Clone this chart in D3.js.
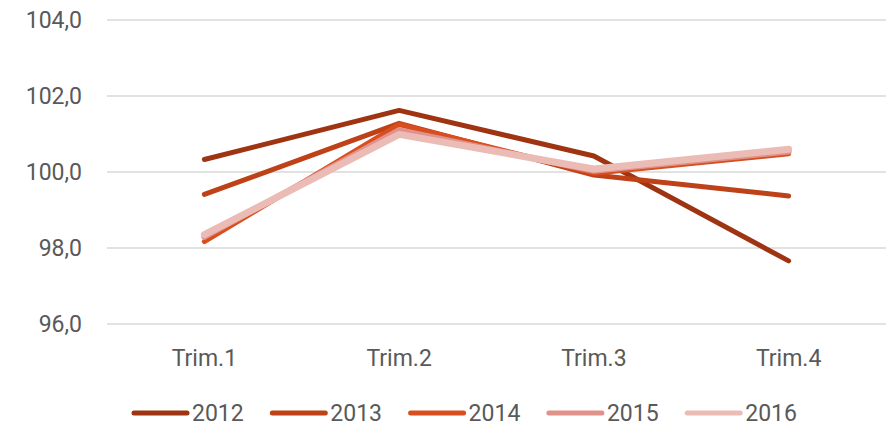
<!DOCTYPE html>
<html>
<head>
<meta charset="utf-8">
<script src="https://cdn.jsdelivr.net/npm/d3@7/dist/d3.min.js"></script>
<style>
  body { margin: 0; background: #fff; }
  svg { display: block; font-family: Roboto, sans-serif; }
</style>
</head>
<body>
<svg id="chart" width="892" height="426"></svg>
<script>
// Data
const quarters = ['Trim.1', 'Trim.2', 'Trim.3', 'Trim.4'];
const years = ['2012', '2013', '2014', '2015', '2016'];
const v2012 = [100.33, 101.62, 100.42, 97.66];
const v2013 = [99.41, 101.28, 99.92, 99.37];
const v2014 = [98.17, 101.25, 99.97, 100.48];
const v2015 = [98.29, 101.10, 100.03, 100.54];
const v2016 = [98.35, 100.99, 100.08, 100.60];
const yTicks = [96, 98, 100, 102, 104];

const seriesValues = [v2012, v2013, v2014, v2015, v2016];
const colors = ['#9E3411', '#BE4117', '#D84E1F', '#E0918A', '#EBBCB6'];
const widths = [5, 5, 5, 6, 7];

const svg = d3.select('#chart');
const margin = { top: 20, right: 6, bottom: 102, left: 107 };
const W = 892;

const x = d3.scaleBand().domain(quarters).range([margin.left, W - margin.right]);
const y = d3.scaleLinear().domain([96, 104]).range([324, 20]);

// Gridlines
svg.append('g')
  .selectAll('line')
  .data(yTicks)
  .join('line')
  .attr('x1', margin.left).attr('x2', W - margin.right)
  .attr('y1', d => y(d)).attr('y2', d => y(d))
  .attr('stroke', '#d9d9d9').attr('stroke-width', 1.3);

// Y axis labels
const fmt = d => d3.format('.1f')(d).replace('.', ',');
svg.append('g')
  .selectAll('text')
  .data(yTicks)
  .join('text')
  .attr('x', 82).attr('y', d => y(d))
  .attr('dy', '0.35em')
  .attr('text-anchor', 'end')
  .attr('fill', '#595959')
  .style('font-size', '23px')
  .text(fmt);

// X axis labels
svg.append('g')
  .selectAll('text')
  .data(quarters)
  .join('text')
  .attr('x', d => x(d) + x.bandwidth() / 2)
  .attr('y', 358)
  .attr('dy', '0.35em')
  .attr('text-anchor', 'middle')
  .attr('fill', '#595959')
  .style('font-size', '23px')
  .text(d => d);

// Lines
const line = d3.line()
  .x((d, i) => x(quarters[i]) + x.bandwidth() / 2)
  .y(d => y(d));

svg.append('g')
  .selectAll('path')
  .data(seriesValues)
  .join('path')
  .attr('d', line)
  .attr('fill', 'none')
  .attr('stroke', (d, i) => colors[i])
  .attr('stroke-width', (d, i) => widths[i])
  .attr('stroke-linecap', 'round')
  .attr('stroke-linejoin', 'round');

// Legend
const legend = svg.append('g')
  .selectAll('g')
  .data(years)
  .join('g')
  .attr('transform', (d, i) => `translate(${134 + i * 138.3},413)`);

legend.append('line')
  .attr('x1', 0).attr('x2', 53)
  .attr('stroke', (d, i) => colors[i])
  .attr('stroke-width', 5)
  .attr('stroke-linecap', 'round');

legend.append('text')
  .attr('x', 58)
  .attr('dy', '0.35em')
  .attr('fill', '#595959')
  .style('font-size', '23px')
  .text(d => d);
</script>
</body>
</html>
